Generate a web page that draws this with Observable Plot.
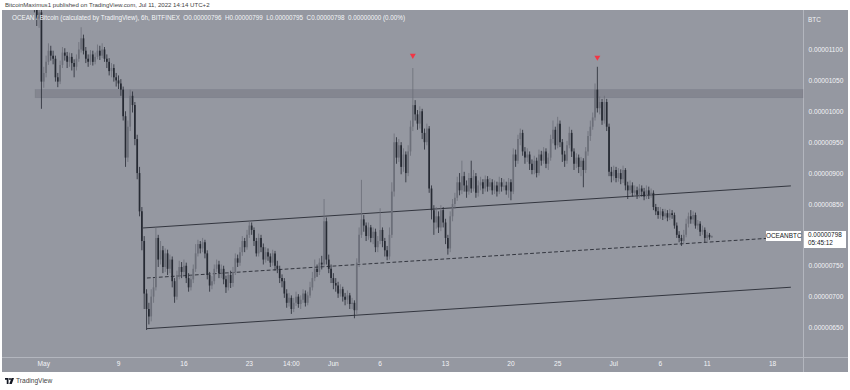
<!DOCTYPE html>
<html><head><meta charset="utf-8">
<script src="https://cdn.jsdelivr.net/npm/d3@7"></script>
<script src="https://cdn.jsdelivr.net/npm/@observablehq/plot@0.6"></script>
<style>
html,body{margin:0;padding:0;background:#fff;}
#wrap{position:relative;width:850px;height:390px;overflow:hidden;font-family:"Liberation Sans",Arial,sans-serif;}
#panel{position:absolute;left:2px;top:10px;width:846px;height:362px;background:#9598a1;}
#vsep{position:absolute;left:803px;top:10px;width:1px;height:362px;background:#b3b6be;}
#hsep{position:absolute;left:2px;top:357px;width:846px;height:1px;background:#b3b6be;}
#chart{position:absolute;left:0;top:0;}
#pub{position:absolute;left:5px;top:1px;font-size:6.1px;color:#444;white-space:pre;}
#legend{position:absolute;left:12px;top:14px;font-size:6.3px;color:#f4f5f7;white-space:pre;}
#btc{position:absolute;left:808px;top:16px;font-size:6.4px;color:#f0f1f4;}
#tv{position:absolute;left:5px;top:377px;font-size:6.6px;color:#444;white-space:pre;}
#tv svg{vertical-align:-1px;margin-right:2px;}
.lbl{position:absolute;background:#fff;color:#131722;font-size:6.4px;text-align:center;white-space:pre;}
</style></head>
<body>
<div id="wrap">
  <div id="pub">BitcoinMaximus1 published on TradingView.com, Jul 11, 2022 14:14 UTC+2</div>
  <div id="panel"></div>
  <div id="vsep"></div>
  <div id="hsep"></div>
  <div id="chart"></div>
  <div id="legend">OCEAN / Bitcoin (calculated by TradingView), 6h, BITFINEX  O0.00000796  H0.00000799  L0.00000795  C0.00000798  0.00000000 (0.00%)</div>
  <div id="btc">BTC</div>
  <div id="tv"><svg width="9" height="6" viewBox="0 0 36 24"><path d="M0 0h14v24H7V7H0z" fill="#131722"/><circle cx="20" cy="4" r="4" fill="#131722"/><path d="M26 0h10L27 24H17z" fill="#131722"/></svg>TradingView</div>
</div>
<script>
// ---- data (prices in satoshi, 1e-8 BTC); 6h candles from 2022-04-29 18:00 UTC ----
const startTime = "2022-04-29T18:00:00Z";
const firstOpen = 1175;
const closes = [
  1185,
  1170,1150,1160,1048,
  1062,1080,1098,1090, 1085,1055,1048,1075, 1095,1090,1080,1088, 1078,1072,1085,1100,
  1118,1098,1085,1080, 1092,1080,1088,1098, 1090,1100,1085,1080, 1065,1070,1055,1050,
  1045,1035,992,925, 975,1025,1010,955, 900,838,790,705, 680,668,700,715,
  795,760,775,748, 770,745,760,725, 700,735,748,740, 750,730,715,728,
  745,770,785,778, 788,770,735,718, 725,745,752,738, 745,728,715,735,
  722,740,762,755, 772,790,780,800, 815,808,790,770, 795,780,760,772,
  765,755,770,750, 745,730,725,705, 690,698,680,690, 700,688,695,705,
  690,702,715,730, 745,740,755,752, 822,760,745,730,
  722,718,705,712, 700,695,702,688, 690,678,755,800, 825,815,798,812,
  795,805,780,790, 808,790,775,765, 800,870,950,925, 945,910,930,900,
  935,975,1010,995, 980,1000,965,950, 972,875,840,820, 830,812,840,820,
  795,778,830,850, 860,885,872,895, 880,870,892,875, 895,868,880,885,
  875,890,878,885, 872,880,870,885, 878,880,872,885, 870,930,920,955,
  965,935,925,930, 915,905,920,900, 930,920,935,915, 925,955,970,945,
  980,950,930,920, 945,965,935,915, 925,910,920,905, 935,960,975,990,
  1035,1005,1015,985, 1015,975,902,895,
  905,892,900,890, 905,880,872,880, 868,872,865,875, 870,862,872,865,
  868,845,838,832, 838,830,835,828, 835,832,815,800, 795,790,800,818,
  830,825,832,815, 818,805,808,795, 800,796,798
];
const highs = [
  1205,
  1200,1178,1172,1165,
  1072,1090,1110,1106, 1098,1090,1062,1082, 1104,1102,1096,1095, 1094,1084,1092,1112,
  1136,1124,1104,1092, 1099,1098,1095,1108, 1106,1110,1104,1092, 1086,1078,1076,1062,
  1058,1052,1040,1000, 985,1035,1032,1015, 962,910,845,798, 712,690,712,730,
  812,800,790,782, 778,776,768,765, 730,742,758,756, 760,755,738,735,
  752,785,792,790, 795,792,775,740, 733,752,760,758, 752,750,734,740,
  742,748,770,768, 780,798,795,808, 822,820,812,795, 802,800,786,780,
  778,770,776,774, 758,750,736,730, 712,706,702,698, 708,704,702,712,
  710,708,724,740, 760,752,762,766, 858,828,768,752,
  738,730,724,720, 716,706,710,706, 698,694,762,812, 889,832,820,820,
  816,812,810,798, 843,812,795,782, 812,885,964,958, 955,950,940,935,
  945,985,1070,1018, 1002,1008,1004,972, 980,976,880,848, 845,838,848,845,
  826,800,838,858, 868,894,900,920, 902,888,900,920, 905,900,888,894,
  890,896,895,892, 890,888,886,894, 892,890,886,892, 890,940,938,962,
  972,970,942,940, 935,922,928,925, 938,936,942,940, 932,962,985,975,
  991,985,955,936, 952,975,970,940, 932,930,926,924, 942,968,985,998,
  1045,1072,1024,1020, 1025,1020,980,910,
  912,910,908,906, 912,908,886,888, 885,880,878,882, 880,876,880,878,
  875,872,850,845, 845,842,842,840, 842,840,836,820, 806,800,808,826,
  836,840,838,836, 824,822,815,812, 805,803,799
];
const lows = [
  1168,
  1160,1138,1135,1004,
  1038,1055,1075,1082, 1076,1048,1039,1044, 1070,1082,1070,1072, 1066,1055,1066,1080,
  1095,1092,1078,1072, 1075,1074,1076,1084, 1083,1086,1080,1070, 1058,1055,1048,1040,
  1036,1025,985,910, 918,968,998,945, 890,830,775,680, 646,655,660,690,
  710,748,752,738, 740,735,738,715, 690,695,728,730, 732,722,708,710,
  722,740,765,770, 772,762,728,708, 712,720,740,730, 730,720,706,710,
  714,716,735,748, 750,766,772,776, 795,800,782,765, 765,772,752,755,
  758,748,750,742, 738,722,715,698, 682,684,672,675, 685,682,680,690,
  684,686,698,710, 725,732,735,744, 748,752,738,722,
  712,708,698,700, 692,686,688,680, 680,665,672,748, 795,805,790,792,
  788,785,772,772, 785,780,765,759, 760,795,862,915, 918,898,902,885,
  895,928,968,985, 970,972,955,938, 945,868,825,800, 810,803,806,812,
  785,768,772,822, 842,855,864,866, 870,860,865,868, 870,860,862,872,
  866,870,870,872, 865,866,862,866, 870,872,865,860, 856,866,910,915,
  945,928,915,918, 905,898,898,893, 896,912,915,908, 905,920,948,938,
  940,942,918,910, 915,940,926,905, 908,900,895,877, 900,928,952,970,
  985,998,995,978, 980,968,895,885,
  888,885,886,882, 884,872,858,866, 862,862,858,860, 862,856,858,858,
  860,840,832,826, 826,824,826,822, 824,826,810,795, 788,782,786,796,
  812,818,818,810, 808,798,800,788, 790,792,795
];
// horizontal resistance zone
const zoneStart = "2022-04-30T03:00:00Z";
const zoneLow = 1022, zoneHigh = 1035;
// ascending channel (start/end times and prices)
const channelTimes = ["2022-05-11T16:00:00Z", "2022-07-19T22:00:00Z"];
const upperLine = [812, 880];
const lowerTimes = ["2022-05-12T02:00:00Z", "2022-07-19T22:00:00Z"];
const lowerLine = [649, 716];
const midTimes = ["2022-05-12T02:00:00Z", "2022-07-18T08:00:00Z"];
const midLine = [731, 796];
// red markers above the two wicks
const peakTimes = ["2022-06-09T12:00:00Z", "2022-06-29T06:00:00Z"];
const peakMarks = [1091, 1088];
// axes
const yTicks = [650, 700, 750, 850, 900, 950, 1000, 1050, 1100];
const xTickTimes = ["2022-05-01","2022-05-09","2022-05-16","2022-05-23","2022-05-27T12:00:00Z","2022-06-01","2022-06-06","2022-06-13","2022-06-20","2022-06-25","2022-07-01","2022-07-06","2022-07-11","2022-07-18"];
const xTickLabels = ["May","9","16","23","14:00","Jun","6","13","20","25","Jul","6","11","18"];
const xDomain = ["2022-04-26T14:00:00Z", "2022-07-21T07:30:00Z"];
const yDomain = [602.3, 1163.9];
const lastPrice = 798, countdown = "05:45:12", symbol = "OCEANBTC";

// ---- build ----
const t0 = new Date(startTime).getTime();
const candles = closes.map((c, i) => ({
  time: new Date(t0 + i * 6 * 3600e3),
  open: i ? closes[i - 1] : firstOpen,
  close: c, high: highs[i], low: lows[i]
}));
const upC = "#6c6f79", downC = "#262a33";
const col = d => d.close >= d.open ? upC : downC;
const D = s => new Date(s);
const tickMap = new Map(xTickTimes.map((s, i) => [D(s).getTime(), xTickLabels[i]]));
const seg = (ts, vs) => ts.map((t, i) => ({t: D(t), v: vs[i]}));

const plot = Plot.plot({
  width: 850, height: 390,
  marginLeft: 2, marginRight: 47, marginTop: 10, marginBottom: 33,
  style: {background: "transparent", fontFamily: "Liberation Sans, Arial, sans-serif", fontSize: "6.6px", overflow: "visible"},
  x: {type: "utc", domain: xDomain.map(D)},
  y: {domain: yDomain},
  color: {type: "identity"},
  marks: [
    Plot.rect([0], {x1: () => D(zoneStart), x2: () => D(xDomain[1]), y1: () => zoneLow, y2: () => zoneHigh,
      fill: "#2a2e39", fillOpacity: 0.16, stroke: "#6e717a", strokeOpacity: 0.35, strokeWidth: 0.7}),
    Plot.line(seg(channelTimes, upperLine), {x: "t", y: "v", stroke: "#33363f", strokeWidth: 1}),
    Plot.line(seg(lowerTimes, lowerLine), {x: "t", y: "v", stroke: "#33363f", strokeWidth: 1}),
    Plot.line(seg(midTimes, midLine), {x: "t", y: "v", stroke: "#33363f", strokeWidth: 1, strokeDasharray: "3,3"}),
    Plot.ruleX(candles, {x: "time", y1: "low", y2: "high", stroke: col, strokeWidth: 0.8, clip: true}),
    Plot.ruleX(candles, {x: "time", y1: "open", y2: "close", stroke: col, strokeWidth: 1.7, clip: true}),
    Plot.dot(seg(peakTimes, peakMarks), {x: "t", y: "v", symbol: "triangle", rotate: 180, r: 2.2, fill: "#f23645", stroke: "none"}),
    Plot.axisY({anchor: "right", ticks: yTicks, tickSize: 0, tickPadding: 5, fill: "#f2f3f6",
      tickFormat: d => (d / 1e8).toFixed(8)}),
    Plot.axisX({anchor: "bottom", ticks: xTickTimes.map(D), tickSize: 0, tickPadding: 4, fill: "#f2f3f6",
      tickFormat: d => tickMap.get(d.getTime())})
  ]
});
document.getElementById("chart").appendChild(plot);

// price labels placed through the y scale
const py = plot.scale("y").apply(lastPrice);
const wrap = document.getElementById("wrap");
const a = document.createElement("div");
a.className = "lbl"; a.textContent = symbol;
Object.assign(a.style, {left: "766px", top: (py - 5) + "px", width: "35px", height: "10px", lineHeight: "10px"});
wrap.appendChild(a);
const b = document.createElement("div");
b.className = "lbl"; b.textContent = (lastPrice / 1e8).toFixed(8) + "\n" + countdown;
Object.assign(b.style, {left: "804px", top: (py - 5) + "px", width: "42px", lineHeight: "8px", textAlign: "left", paddingLeft: "4px", paddingBottom: "1px", boxSizing: "border-box"});
wrap.appendChild(b);
</script>
</body></html>
